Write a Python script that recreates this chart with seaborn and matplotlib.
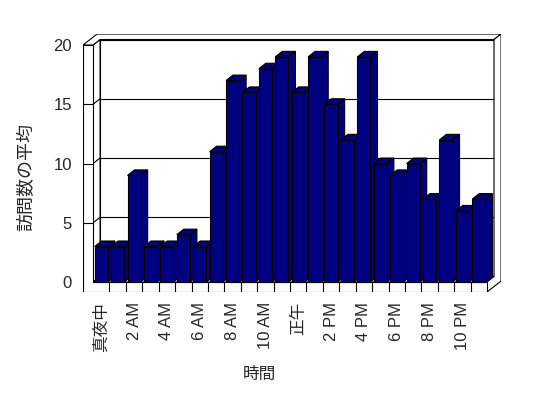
import seaborn as sns
import matplotlib.pyplot as plt
from matplotlib.patches import Polygon

# hourly categories and average visits
hours = ['真夜中', '1 AM', '2 AM', '3 AM', '4 AM', '5 AM', '6 AM', '7 AM', '8 AM', '9 AM', '10 AM', '11 AM',
         '正午', '1 PM', '2 PM', '3 PM', '4 PM', '5 PM', '6 PM', '7 PM', '8 PM', '9 PM', '10 PM', '11 PM']
visits = [3, 3, 9, 3, 3, 4, 3, 11, 17, 16, 18, 19, 16, 19, 15, 12, 19, 10, 9, 10, 7, 12, 6, 7]
yticks = [0, 5, 10, 15, 20]
gridlines = [5, 10, 15]

sns.set_style('white')
plt.rcParams['font.family'] = ['Liberation Sans', 'Noto Sans CJK JP']

# 3d look: depth step in data units, wall / floor thickness
DX, DY = 0.427, 0.464
WALL = 0.61
FLOOR = 0.84
n = len(hours)
x0, x1 = -0.5, n - 0.5
top = yticks[-1]
lw = 0.8
navy = '#000080'


def P(x, y, z):
    return (x + z * DX, y + z * DY)


fig = plt.figure(figsize=(5.48, 3.98), dpi=100)
ax = fig.add_axes([0.1515, 0.2663, 0.7628, 0.6482])

sns.barplot(x=hours, y=visits, color=navy, edgecolor='black', linewidth=lw,
            width=0.8, saturation=1, errorbar=None, ax=ax)


def face(pts, z, fc='white'):
    ax.add_patch(Polygon(pts, closed=True, facecolor=fc, edgecolor='black', linewidth=lw, zorder=z))


def line(a, b, z=1.5):
    ax.plot([a[0], b[0]], [a[1], b[1]], color='black', lw=lw, zorder=z, solid_capstyle='butt')


# back wall, left wall inner face, floor top
face([P(x0, 0, 1), P(x1, 0, 1), P(x1, top, 1), P(x0, top, 1)], 1)
face([P(x0, 0, 0), P(x0, 0, 1), P(x0, top, 1), P(x0, top, 0)], 1)
face([P(x0, 0, 0), P(x1, 0, 0), P(x1, 0, 1), P(x0, 0, 1)], 1)
for g in gridlines:
    line(P(x0, g, 1), P(x1, g, 1))
    line(P(x0, g, 0), P(x0, g, 1))

# top of walls, right side, front L of wall + floor
face([P(x0 - WALL, top, 0), P(x0 - WALL, top, 2), P(x1, top, 2), P(x1, top, 1),
      P(x0, top, 1), P(x0, top, 0)], 2)
face([P(x1, top, 1), P(x1, top, 2), P(x1, -FLOOR, 2), P(x1, -FLOOR, 0),
      P(x1, 0, 0), P(x1, 0, 1)], 2)
face([P(x0 - WALL, -FLOOR, 0), P(x1, -FLOOR, 0), P(x1, 0, 0), P(x0, 0, 0),
      P(x0, top, 0), P(x0 - WALL, top, 0)], 2)
for g in gridlines:
    line(P(x0 - WALL, g, 0), P(x0, g, 0), 2.5)
for k in range(1, n):
    line(P(x0 + k, -FLOOR, 0), P(x0 + k, 0, 0), 2.5)

# bar sides and tops
for i, p in enumerate(ax.patches[:n]):
    bx, bw, bh = p.get_x(), p.get_width(), p.get_height()
    base = 5 + 3 * i
    face([P(bx + bw, 0, 0), P(bx + bw, 0, 1), P(bx + bw, bh, 1), P(bx + bw, bh, 0)], base, navy)
    face([P(bx, bh, 0), P(bx + bw, bh, 0), P(bx + bw, bh, 1), P(bx, bh, 1)], base + 1, navy)
    p.set_zorder(base + 2)

ax.set_xlim(x0 - WALL, x1 + 2 * DX)
ax.set_ylim(-FLOOR, top + 2 * DY)
for s in ax.spines.values():
    s.set_visible(False)

ax.set_yticks(yticks)
ax.set_yticklabels([str(v) for v in yticks], fontsize=12)
ax.set_xticks(range(0, n, 2))
ax.set_xticklabels(hours[::2], rotation=90, fontsize=12)
ax.tick_params(axis='y', length=0, pad=8)
ax.tick_params(axis='x', length=0, pad=7)

ax.set_xlabel('時間', fontsize=12)
ax.set_ylabel('訪問数の平均', fontsize=13)
ax.xaxis.set_label_coords(0.423, -0.29)
ax.yaxis.set_label_coords(-0.115, 0.446)

fig.savefig('out.png', dpi=100)
